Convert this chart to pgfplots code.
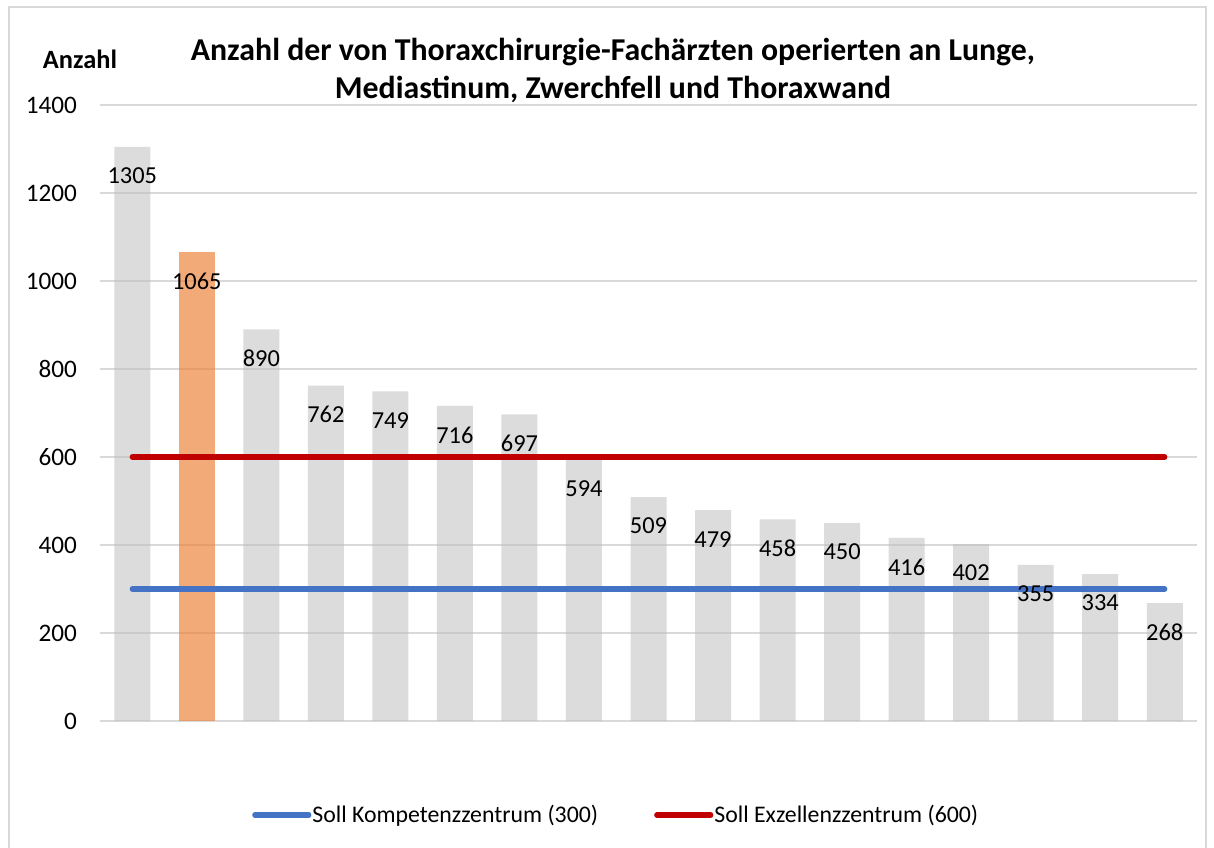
\documentclass[border=0pt]{standalone}
\usepackage{fontspec}
\setmainfont{Carlito}
\usepackage{pgfplots}
\pgfplotsset{compat=1.18}
\definecolor{gridc}{HTML}{D9D9D9}
\definecolor{barc}{HTML}{BFBFBF}
\definecolor{orangec}{HTML}{ED7D31}
\definecolor{bluec}{HTML}{4472C4}
\definecolor{redc}{HTML}{C00000}
\begin{document}
\begin{tikzpicture}[x=1pt,y=1pt]
\useasboundingbox (0,0) rectangle (607,423.5);
\draw[gridc, line width=1pt] (4.5,-10) -- (4.5,420) -- (603,420) -- (603,-10);
\node[font=\fontsize{13.2}{15}\selectfont\bfseries] at (40,394) {Anzahl};
\node[font=\fontsize{15.9}{18}\selectfont\bfseries] at (306.5,397.5) {Anzahl der von Thoraxchirurgie-Fachärzten operierten an Lunge,};
\node[font=\fontsize{15.9}{18}\selectfont\bfseries] at (306.5,379) {Mediastinum, Zwerchfell und Thoraxwand};
\begin{axis}[
  at={(50pt,63pt)}, anchor=south west,
  scale only axis, width=548.5pt, height=308pt,
  xmin=-0.5, xmax=16.5, ymin=0, ymax=1400,
  xtick=\empty, ytick={0,200,...,1400},
  ymajorgrids, major grid style={gridc, line width=0.75pt},
  axis line style={draw=none}, major tick length=0pt,
  /pgf/number format/assume math mode=true,
  /pgf/number format/1000 sep={},
  yticklabel style={font=\fontsize{12.6}{14}\selectfont, xshift=-8pt},
  legend style={draw=none, fill=none, at={(0.4715,-0.1526)}, anchor=center,
    font=\fontsize{11.9}{14}\selectfont, legend columns=2,
    /tikz/every even column/.append style={column sep=26pt},
    /tikz/every odd column/.append style={column sep=-1.5pt}},
  legend image code/.code={\draw[#1, line cap=round] (0pt,0pt) -- (27pt,0pt);},
  clip=false,
]
\addplot[ybar, bar width=18pt, bar shift=0pt, draw=none, fill=barc, fill opacity=0.55, forget plot]
  coordinates {(0,1305) (2,890) (3,762) (4,749) (5,716) (6,697) (7,594) (8,509) (9,479) (10,458) (11,450) (12,416) (13,402) (14,355) (15,334) (16,268)};
\addplot[ybar, bar width=18pt, bar shift=0pt, draw=none, fill=orangec, fill opacity=0.65, forget plot]
  coordinates {(1,1065)};
\addplot[bluec, line width=2.6pt, line cap=round] coordinates {(0,300) (16,300)};
\addlegendentry{Soll Kompetenzzentrum (300)}
\addplot[redc, line width=2.6pt, line cap=round] coordinates {(0,600) (16,600)};
\addlegendentry{Soll Exzellenzzentrum (600)}
\addplot[ybar, bar width=18pt, bar shift=0pt, draw=none, fill=none, forget plot,
  nodes near coords,
  every node near coord/.append style={anchor=center, yshift=-14.5pt, font=\fontsize{12.2}{14}\selectfont, text=black, /pgf/number format/assume math mode=true, /pgf/number format/1000 sep={}}]
  coordinates {(0,1305) (1,1065) (2,890) (3,762) (4,749) (5,716) (6,697) (7,594) (8,509) (9,479) (10,458) (11,450) (12,416) (13,402) (14,355) (15,334) (16,268)};
\end{axis}
\end{tikzpicture}
\end{document}
